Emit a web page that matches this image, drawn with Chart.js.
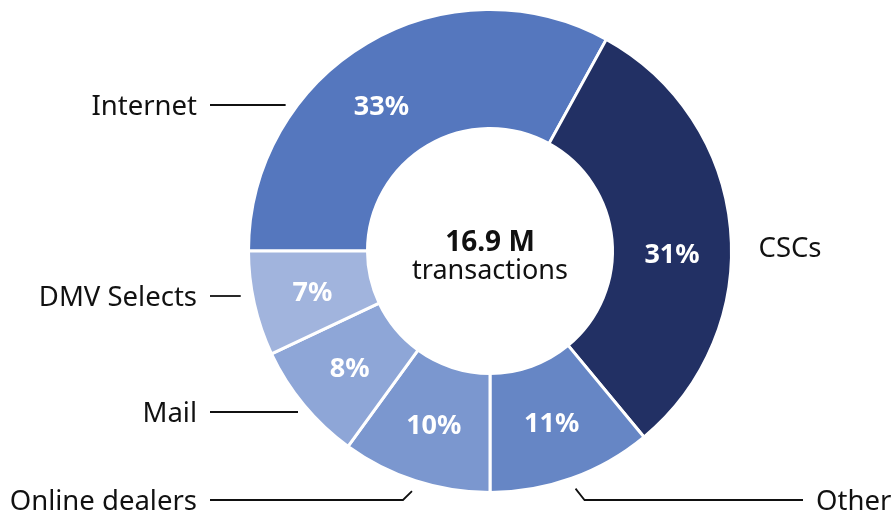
<!DOCTYPE html>
<html>
<head>
<meta charset="utf-8">
<script src="https://cdn.jsdelivr.net/npm/chart.js@4.4.1/dist/chart.umd.min.js"></script>
<style>
html,body{margin:0;padding:0;background:#fff}
#wrap{width:891px;height:515px;position:relative}
</style>
</head>
<body>
<div id="wrap"><canvas id="donut"></canvas></div>
<script>
// transactions by channel, percent of total
let categories=["Internet","CSCs","Other","Online dealers","Mail","DMV Selects"]
let shares=[33,31,11,10,8,7]
let totalValue="16.9 M"
let totalUnit="transactions"

let colors=["#5577be","#223064","#6686c5","#7b97cf","#8ea6d7","#a1b4dd"]
// where each callout sits: side of the ring, text baseline row, line shape
let calloutSide=["left","right","right","left","left","left"]
let calloutY=[105,247,500,500,412,296]
let calloutKind=["flat","none","elbow","elbow","flat","flat"]
// small angle nudges (degrees) for the percent labels of the two big slices
let pctNudge=[-6,6,0,0,0,0]

const FONT='"Noto Sans", "Open Sans", sans-serif'
const CAP=9.8

const callouts={
id:"callouts",
afterDatasetsDraw(chart){
let ctx=chart.ctx
let arcs=chart.getDatasetMeta(0).data
let first=arcs[0]
let cx=first.x, cy=first.y
let R=first.outerRadius
ctx.save()
// percent labels inside the ring
ctx.fillStyle="#fff"
ctx.font="bold 27px "+FONT
ctx.textAlign="center"
ctx.textBaseline="alphabetic"
arcs.forEach((arc,i)=>{
let mid=(arc.startAngle+arc.endAngle)/2+pctNudge[i]*Math.PI/180
let r=(arc.innerRadius+arc.outerRadius)/2
let x=cx+Math.cos(mid)*r
let y=cy+Math.sin(mid)*r
ctx.fillText(shares[i]+"%",x,y+CAP)
})
// category callouts
ctx.strokeStyle="#111"
ctx.lineWidth=1.8
ctx.fillStyle="#111"
ctx.font="27.5px "+FONT
arcs.forEach((arc,i)=>{
let side=calloutSide[i]
let y=calloutY[i]
let lineEnd=side=="left"?210:803
if(calloutKind[i]=="flat"){
let dx=Math.sqrt(Math.max(R*R-(y-cy)*(y-cy),0))
let edge=side=="left"?cx-dx-12:cx+dx+12
ctx.beginPath()
ctx.moveTo(lineEnd,y)
ctx.lineTo(edge,y)
ctx.stroke()
}else if(calloutKind[i]=="elbow"){
let mid=(arc.startAngle+arc.endAngle)/2
let px=cx+Math.cos(mid)*(R+11)
let py=cy+Math.sin(mid)*(R+11)
let kx=side=="left"?px-9:px+9
ctx.beginPath()
ctx.moveTo(px,py)
ctx.lineTo(kx,y)
ctx.lineTo(lineEnd,y)
ctx.stroke()
}
ctx.textAlign=side=="left"?"right":"left"
let tx
if(calloutKind[i]=="none")tx=cx+R+27
else tx=side=="left"?lineEnd-13:lineEnd+13
ctx.fillText(categories[i],tx,y+CAP)
})
// total in the hole
ctx.textAlign="center"
ctx.font="bold 28px "+FONT
ctx.fillText(totalValue,cx,cy)
ctx.font="27px "+FONT
ctx.fillText(totalUnit,cx,cy+28)
ctx.restore()
}
}

let chart=new Chart(document.getElementById("donut"),{
type:"doughnut",
data:{
labels:categories,
datasets:[{
data:shares,
backgroundColor:colors,
borderColor:"#fff",
borderWidth:3,
hoverOffset:0
}]
},
options:{
responsive:true,
maintainAspectRatio:false,
animation:false,
rotation:-90,
radius:241.5,
cutout:121.5,
layout:{padding:{left:249,right:160,top:10,bottom:23}},
plugins:{legend:{display:false},tooltip:{enabled:false}},
events:[]
},
plugins:[callouts]
})
</script>
</body>
</html>
